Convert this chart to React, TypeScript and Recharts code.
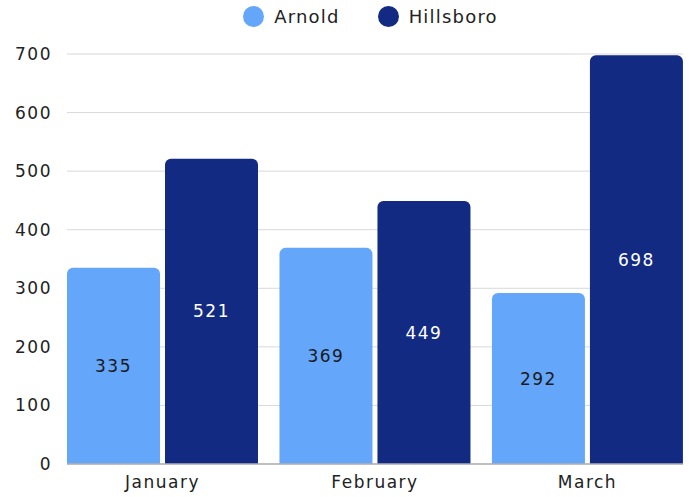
import React from 'react';
import { BarChart, Bar, XAxis, YAxis, CartesianGrid, LabelList } from 'recharts';

const months = ['January', 'February', 'March'];
const arnold = [335, 369, 292];
const hillsboro = [521, 449, 698];
const yTicks = [0, 100, 200, 300, 400, 500, 600, 700];

const ARNOLD = '#64A6FA';
const HILLSBORO = '#122A82';
const FONT = 'DejaVu Sans, sans-serif';

const data = months.map((m, i) => ({ month: m, Arnold: arnold[i], Hillsboro: hillsboro[i] }));

const legendItems = [
  { name: 'Arnold', color: ARNOLD },
  { name: 'Hillsboro', color: HILLSBORO },
];

const tickStyle = { fontFamily: FONT, fontSize: 17, fill: '#222', letterSpacing: 1.5 };

const App: React.FC = () => {
  return (
    <div style={{ position: 'fixed', top: 0, left: 0, width: 691, height: 497, background: '#fff' }}>
      <div
        style={{
          position: 'absolute',
          top: 6,
          left: 0,
          width: 691,
          display: 'flex',
          justifyContent: 'center',
          gap: 38,
          fontFamily: FONT,
          fontSize: 18,
          letterSpacing: 1.2,
          color: '#222',
          paddingLeft: 50,
          boxSizing: 'border-box',
        }}
      >
        {legendItems.map(it => (
          <div key={it.name} style={{ display: 'flex', alignItems: 'center', gap: 10 }}>
            <div style={{ width: 21, height: 21, borderRadius: '50%', background: it.color }} />
            <span>{it.name}</span>
          </div>
        ))}
      </div>
      <BarChart
        width={691}
        height={497}
        data={data}
        margin={{ top: 54, right: 8, left: 0, bottom: 0 }}
        barCategoryGap={10.7}
        barGap={5}
      >
        <CartesianGrid stroke="#d9d9d9" vertical={false} />
        <XAxis
          dataKey="month"
          height={33}
          axisLine={{ stroke: '#b0b0b0', strokeWidth: 1.5 }}
          tickLine={false}
          tickMargin={6}
          padding={{ left: -10.7, right: -10.7 }}
          tick={tickStyle}
        />
        <YAxis
          width={67}
          domain={[0, 700]}
          ticks={yTicks}
          axisLine={false}
          tickLine={false}
          tickMargin={9}
          tick={tickStyle}
        />
        <Bar dataKey="Arnold" fill={ARNOLD} radius={[6, 6, 0, 0]} isAnimationActive={false}>
          <LabelList
            dataKey="Arnold"
            position="center"
            fill="#1a1a1a"
            style={{ fontFamily: FONT, fontSize: 17, letterSpacing: 1.5 }}
          />
        </Bar>
        <Bar dataKey="Hillsboro" fill={HILLSBORO} radius={[6, 6, 0, 0]} isAnimationActive={false}>
          <LabelList
            dataKey="Hillsboro"
            position="center"
            fill="#ffffff"
            style={{ fontFamily: FONT, fontSize: 17, letterSpacing: 1.5 }}
          />
        </Bar>
      </BarChart>
    </div>
  );
};

export default App;
